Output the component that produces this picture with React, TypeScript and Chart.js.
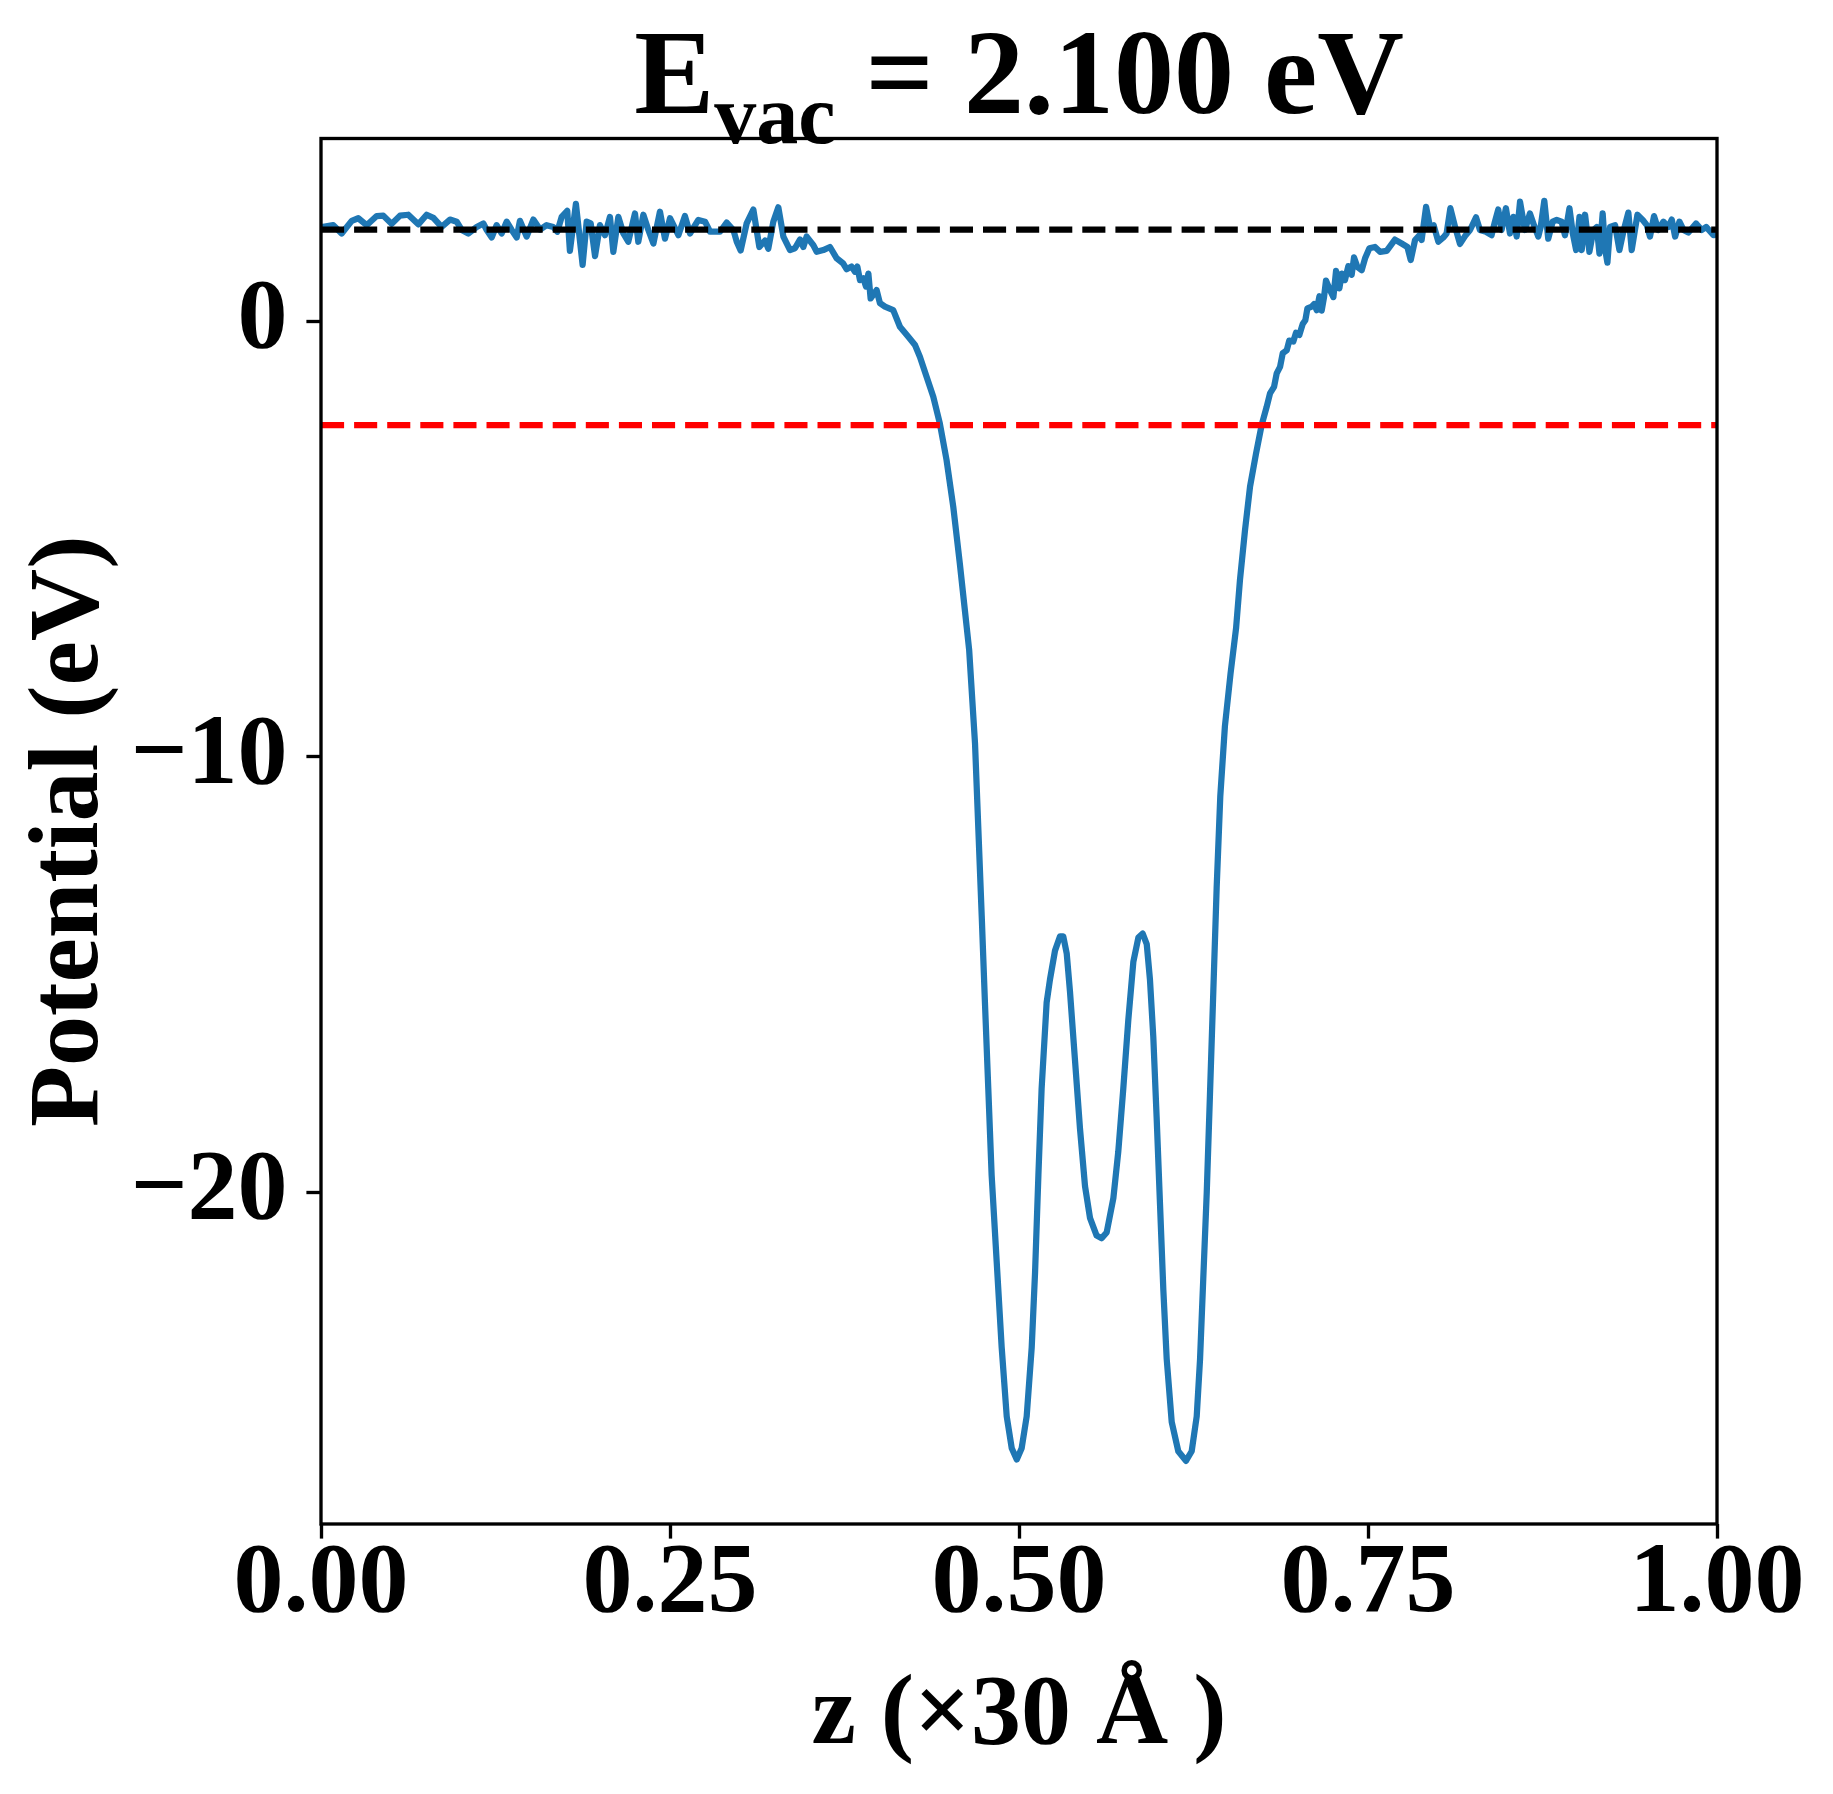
import React, { useEffect, useRef } from "react";
import { Chart, registerables } from "chart.js";

Chart.register(...registerables);

// ---- data ----
const zValues = [
  0.0000, 0.0016, 0.0088, 0.0148, 0.0220, 0.0267, 0.0327, 0.0399, 0.0446, 0.0506,
  0.0566, 0.0625, 0.0697, 0.0757, 0.0805, 0.0864, 0.0924, 0.0972, 0.1008, 0.1055,
  0.1115, 0.1163, 0.1187, 0.1223, 0.1258, 0.1294, 0.1330, 0.1366, 0.1402, 0.1425,
  0.1473, 0.1521, 0.1569, 0.1616, 0.1664, 0.1693, 0.1724, 0.1764, 0.1783, 0.1826,
  0.1874, 0.1903, 0.1932, 0.1963, 0.1998, 0.2034, 0.2070, 0.2094, 0.2130, 0.2166,
  0.2201, 0.2249, 0.2273, 0.2309, 0.2345, 0.2381, 0.2428, 0.2464, 0.2500, 0.2560,
  0.2607, 0.2643, 0.2703, 0.2751, 0.2787, 0.2858, 0.2906, 0.2954, 0.2978, 0.3006,
  0.3049, 0.3097, 0.3140, 0.3181, 0.3204, 0.3240, 0.3276,
  0.3312, 0.3360, 0.3395, 0.3431, 0.3455, 0.3479, 0.3527, 0.3551, 0.3598, 0.3646,
  0.3694, 0.3741, 0.3765, 0.3801, 0.3825, 0.3842, 0.3861, 0.3885, 0.3904, 0.3921,
  0.3937, 0.3980, 0.4004, 0.4040, 0.4099, 0.4147, 0.4207, 0.4255, 0.4290, 0.4338,
  0.4386, 0.4433, 0.4481, 0.4529, 0.4576, 0.4612, 0.4643,
  0.4685, 0.4709, 0.4733, 0.4756, 0.4780, 0.4804, 0.4840, 0.4876, 0.4912, 0.4948,
  0.4984, 0.5019, 0.5055, 0.5091, 0.5115, 0.5139, 0.5162, 0.5198, 0.5222, 0.5258,
  0.5294, 0.5317, 0.5342, 0.5365, 0.5401, 0.5437, 0.5473, 0.5509, 0.5556, 0.5592,
  0.5628, 0.5676, 0.5711, 0.5747, 0.5783, 0.5819, 0.5855, 0.5886, 0.5915, 0.5938,
  0.5962, 0.5986, 0.6010, 0.6034, 0.6058, 0.6094, 0.6141, 0.6196, 0.6237, 0.6273,
  0.6297, 0.6320, 0.6345, 0.6368, 0.6392, 0.6416, 0.6442, 0.6475, 0.6515,
  0.6555, 0.6583, 0.6619, 0.6655, 0.6698, 0.6738, 0.6774, 0.6798, 0.6827, 0.6846,
  0.6870, 0.6889, 0.6918, 0.6936, 0.6965, 0.6984, 0.7008, 0.7032, 0.7051, 0.7066,
  0.7097, 0.7114, 0.7133, 0.7152, 0.7168, 0.7185, 0.7199, 0.7228, 0.7252, 0.7271,
  0.7295, 0.7312, 0.7335, 0.7359, 0.7383, 0.7400, 0.7424, 0.7455, 0.7479, 0.7510,
  0.7550, 0.7586, 0.7634, 0.7693, 0.7741, 0.7782, 0.7806, 0.7837, 0.7868, 0.7884,
  0.7916, 0.7944, 0.7970, 0.8004, 0.8040, 0.8063, 0.8090,
  0.8124, 0.8159, 0.8195, 0.8231, 0.8274, 0.8302, 0.8345, 0.8385, 0.8409, 0.8433,
  0.8457, 0.8488, 0.8517, 0.8541, 0.8565, 0.8589, 0.8624, 0.8660, 0.8689, 0.8720,
  0.8737, 0.8763, 0.8791, 0.8823, 0.8852, 0.8887, 0.8911, 0.8943, 0.8967, 0.8991,
  0.9015, 0.9031, 0.9055, 0.9086, 0.9115, 0.9139, 0.9158, 0.9181, 0.9198, 0.9215,
  0.9234, 0.9270, 0.9301, 0.9329, 0.9365, 0.9389, 0.9430, 0.9468, 0.9497, 0.9520,
  0.9549, 0.9580, 0.9616, 0.9652, 0.9676, 0.9700, 0.9731, 0.9760, 0.9795, 0.9850,
  0.9891, 0.9922, 0.9975, 1.0000,
];

const potentialValues = [
  2.16, 2.16, 2.20, 2.01, 2.30, 2.36, 2.20, 2.41, 2.42, 2.23,
  2.42, 2.44, 2.22, 2.44, 2.37, 2.16, 2.33, 2.28, 2.09, 2.01,
  2.16, 2.24, 2.09, 1.92, 2.20, 2.01, 2.28, 2.09, 1.92, 2.30,
  1.94, 2.33, 2.10, 2.20, 2.16, 2.05, 2.39, 2.53, 1.61, 2.69,
  1.29, 2.28, 2.24, 1.49, 2.20, 1.97, 2.39, 1.59, 2.39, 2.01,
  1.82, 2.47, 1.82, 2.44, 2.09, 1.78, 2.51, 1.89, 2.36, 1.97,
  2.41, 2.01, 2.32, 2.28, 2.05, 2.05, 2.26, 2.09, 1.82, 1.62,
  2.24, 2.56, 1.70, 1.85, 1.66, 2.28, 2.61,
  1.94, 1.63, 1.67, 1.87, 1.70, 1.94, 1.74, 1.59, 1.63, 1.70,
  1.44, 1.32, 1.19, 1.25, 1.13, 1.25, 0.94, 0.98, 0.79, 1.09,
  0.52, 0.71, 0.41, 0.33, 0.25, -0.13, -0.36, -0.55, -0.82, -1.28,
  -1.74, -2.35, -3.19, -4.26, -5.56, -6.63, -7.55,
  -9.70, -11.68, -13.66, -15.64, -17.62, -19.60, -21.58, -23.56, -25.14, -25.87,
  -26.13, -25.87, -25.14, -23.56, -21.84, -19.60, -17.62, -15.64, -15.11, -14.45,
  -14.12, -14.12, -14.52, -15.38, -16.96, -18.54, -19.86, -20.59, -20.99, -21.05,
  -20.92, -20.13, -19.07, -17.62, -16.04, -14.71, -14.15, -14.06, -14.30, -15.11,
  -16.43, -18.28, -20.26, -22.24, -23.82, -25.27, -25.94, -26.16, -25.94, -25.14,
  -23.82, -21.98, -19.99, -17.75, -15.38, -13.00, -10.90, -9.30, -8.10,
  -7.05, -5.94, -4.80, -3.80, -3.04, -2.39, -1.97, -1.66, -1.51, -1.20,
  -1.05, -0.74, -0.67, -0.45, -0.47, -0.27, -0.32, -0.07, 0.02, 0.29,
  0.33, 0.39, 0.25, 0.57, 0.24, 0.55, 0.93, 0.71, 0.55, 1.15,
  0.75, 1.09, 0.94, 1.26, 1.06, 1.46, 1.24, 1.17, 1.44, 1.67,
  1.70, 1.59, 1.61, 1.87, 1.78, 1.70, 1.40, 1.86, 1.97, 1.86,
  2.62, 2.16, 2.20, 1.82, 1.92, 2.01, 2.59,
  2.16, 1.77, 1.95, 2.09, 2.38, 2.09, 2.05, 1.97, 2.28, 2.56,
  2.09, 2.59, 2.01, 2.39, 1.94, 2.74, 2.09, 2.47, 2.20, 1.94,
  2.16, 2.76, 1.89, 2.28, 2.32, 2.28, 1.97, 2.59, 2.01, 1.63,
  2.39, 1.63, 2.44, 1.59, 2.09, 2.16, 1.55, 2.47, 1.66, 1.34,
  2.16, 2.20, 1.63, 2.05, 2.49, 1.63, 2.44, 2.32, 2.20, 1.94,
  2.41, 2.09, 2.28, 2.16, 2.33, 1.94, 2.28, 2.09, 2.03, 2.24,
  2.09, 2.16, 1.97, 1.99,
];

const vacuumLevel = [2.1];
const fermiLevel = [-2.39];
const xTickValues = [0, 0.25, 0.5, 0.75, 1];
const yTickValues = [-20, -10, 0];
const titleMain = "E";
const titleSub = "vac";
const titleRest = " = 2.100 eV";
const xAxisLabel = "z (×30 Å )";
const yAxisLabel = "Potential (eV)";

const FAMILY = "'Liberation Serif', 'Times New Roman', Times, serif";
const W = 1833;
const H = 1794;

export default function App() {
  const ref = useRef<HTMLCanvasElement | null>(null);

  useEffect(() => {
    const canvas = ref.current;
    if (!canvas) return;
    document.body.style.margin = "0";

    const decor = {
      id: "decor",
      beforeDraw(chart: any) {
        const ctx = chart.ctx;
        ctx.save();
        ctx.fillStyle = "#ffffff";
        ctx.fillRect(0, 0, chart.width, chart.height);
        ctx.restore();
      },
      afterDatasetsDraw(chart: any) {
        const ctx = chart.ctx;
        const a = chart.chartArea;
        ctx.save();
        ctx.strokeStyle = "#000";
        ctx.lineWidth = 3.33;
        ctx.strokeRect(a.left, a.top, a.right - a.left, a.bottom - a.top);
        ctx.restore();
      },
      afterDraw(chart: any) {
        const ctx = chart.ctx;
        const a = chart.chartArea;
        const cx = (a.left + a.right) / 2;
        const cy = (a.top + a.bottom) / 2;
        ctx.save();
        ctx.fillStyle = "#000";
        ctx.textBaseline = "alphabetic";
        ctx.textAlign = "left";
        // title
        ctx.font = `bold 120px ${FAMILY}`;
        const wE = ctx.measureText(titleMain).width;
        const wRest = ctx.measureText(titleRest).width;
        ctx.font = `bold 84px ${FAMILY}`;
        const wSub = ctx.measureText(titleSub).width;
        let x = cx - (wE + wSub + wRest) / 2;
        ctx.font = `bold 120px ${FAMILY}`;
        ctx.fillText(titleMain, x, 113);
        x += wE;
        ctx.font = `bold 84px ${FAMILY}`;
        ctx.fillText(titleSub, x, 143);
        x += wSub;
        ctx.font = `bold 120px ${FAMILY}`;
        ctx.fillText(titleRest, x, 113);
        // axis labels
        ctx.font = `bold 100px ${FAMILY}`;
        ctx.textAlign = "center";
        ctx.fillText(xAxisLabel, cx, 1743);
        ctx.translate(97, cy);
        ctx.rotate(-Math.PI / 2);
        ctx.fillText(yAxisLabel, 0, 0);
        ctx.restore();
      },
    };

    const gridOpts = {
      display: true,
      drawOnChartArea: false,
      drawTicks: true,
      tickLength: 14.6,
      tickWidth: 3.33,
      tickColor: "#000",
      color: "rgba(0,0,0,0)",
    };
    const tickFont = { family: FAMILY, size: 100, weight: "bold" as const, lineHeight: 1 };

    const chart = new Chart(canvas, {
      type: "line",
      data: {
        datasets: [
          {
            label: "potential",
            data: zValues.map((z, i) => ({ x: z, y: potentialValues[i] })),
            borderColor: "#1f77b4",
            borderWidth: 6.25,
            pointRadius: 0,
            tension: 0,
            fill: false,
            borderJoinStyle: "round",
            order: 2,
          },
          {
            label: "vacuum",
            data: [
              { x: 0, y: vacuumLevel[0] },
              { x: 1, y: vacuumLevel[0] },
            ],
            borderColor: "#000000",
            borderWidth: 6.25,
            borderDash: [23.1, 10],
            pointRadius: 0,
            fill: false,
            order: 1,
          },
          {
            label: "fermi",
            data: [
              { x: 0, y: fermiLevel[0] },
              { x: 1, y: fermiLevel[0] },
            ],
            borderColor: "#ff0000",
            borderWidth: 6.25,
            borderDash: [23.1, 10],
            pointRadius: 0,
            fill: false,
            order: 1,
          },
        ],
      },
      options: {
        responsive: false,
        maintainAspectRatio: false,
        devicePixelRatio: 1,
        animation: false,
        events: [],
        layout: { padding: { left: 0, right: 116, top: 138.5, bottom: 0 } },
        plugins: {
          legend: { display: false },
          tooltip: { enabled: false },
          title: { display: false },
        },
        scales: {
          x: {
            type: "linear",
            min: 0,
            max: 1,
            bounds: "data",
            grid: gridOpts as any,
            border: { display: false },
            ticks: {
              font: tickFont,
              color: "#000",
              padding: -3,
              maxRotation: 0,
              minRotation: 0,
              autoSkip: false,
              callback: (v: any) => Number(v).toFixed(2),
            },
            afterBuildTicks: (s: any) => {
              s.ticks = xTickValues.map((v) => ({ value: v }));
            },
            afterFit: (s: any) => {
              s.height = 270;
            },
          },
          y: {
            type: "linear",
            min: -27.61,
            max: 4.19,
            bounds: "data",
            grid: gridOpts as any,
            border: { display: false },
            ticks: {
              font: tickFont,
              color: "#000",
              padding: 19,
              autoSkip: false,
              callback: (v: any) => (Number(v) === 0 ? "0" : "\u2212" + Math.abs(Number(v))),
            },
            afterBuildTicks: (s: any) => {
              s.ticks = yTickValues.map((v) => ({ value: v }));
            },
            afterFit: (s: any) => {
              s.width = 321;
            },
          },
        },
      } as any,
      plugins: [decor],
    });

    return () => {
      chart.destroy();
    };
  }, []);

  return (
    <div style={{ position: "absolute", left: 0, top: 0, width: W, height: H, background: "#fff" }}>
      <canvas ref={ref} width={W} height={H} style={{ width: W, height: H, display: "block" }} />
    </div>
  );
}
